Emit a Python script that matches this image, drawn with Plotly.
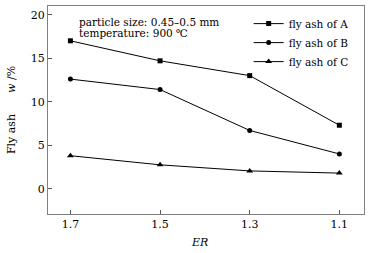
import plotly.graph_objects as go

er = [1.7, 1.5, 1.3, 1.1]
ash_a = [17.0, 14.7, 13.0, 7.3]
ash_b = [12.6, 11.4, 6.7, 4.0]
ash_c = [3.8, 2.75, 2.05, 1.8]
names = ["fly ash of A", "fly ash of B", "fly ash of C"]
symbols = ["square", "circle", "triangle-up"]
x_ticks = [1.7, 1.5, 1.3, 1.1]
y_ticks = [0, 5, 10, 15, 20]

FONT = "DejaVu Serif"
FS = 10.5
fig = go.Figure()
for vals, name, sym in zip([ash_a, ash_b, ash_c], names, symbols):
    fig.add_trace(go.Scatter(
        x=er, y=vals, name=name, mode="lines+markers",
        line=dict(color="black", width=1),
        marker=dict(symbol=sym, size=5 if sym != "triangle-up" else 6, color="black"),
    ))

axis_common = dict(
    showline=True, linecolor="#808080", linewidth=1, mirror=True, automargin=False,
    ticks="inside", ticklen=4, tickcolor="#555", showgrid=False, zeroline=False,
    tickfont=dict(family=FONT, size=FS + 0.5, color="black"),
)
fig.update_xaxes(range=[1.75, 1.045], tickvals=x_ticks, ticktext=[str(v) for v in x_ticks],
                 **axis_common)
fig.update_yaxes(range=[-2.9, 21], tickvals=y_ticks,
                 title=dict(text="Fly ash&nbsp;&nbsp;&nbsp;&nbsp;&nbsp;&nbsp;<i>w</i> /%", font=dict(family=FONT, size=FS + 0.5, color="black"), standoff=12),
                 **axis_common)
fig.add_annotation(xref="paper", yref="paper", x=0.092, y=0.925, xanchor="left", yanchor="middle",
                   text="particle size: 0.45\u20130.5 mm",
                   showarrow=False, font=dict(family=FONT, size=FS, color="black"))
fig.add_annotation(xref="paper", yref="paper", x=0.092, y=0.87, xanchor="left", yanchor="middle",
                   text="temperature: 900 \u2103",
                   showarrow=False, font=dict(family=FONT, size=FS, color="black"))
fig.add_annotation(xref="paper", yref="paper", x=0.48, y=-0.135, xanchor="center", yanchor="middle",
                   text="<i>ER</i>", showarrow=False, font=dict(family=FONT, size=FS + 0.5, color="black"))
fig.update_layout(
    width=371, height=253,
    margin=dict(l=48, r=7, t=6, b=39, autoexpand=False),
    paper_bgcolor="white", plot_bgcolor="white",
    font=dict(family=FONT, size=FS, color="black"),
    legend=dict(x=0.635, y=0.985, xanchor="left", yanchor="top", bgcolor="rgba(0,0,0,0)",
                font=dict(family=FONT, size=FS, color="black"), tracegroupgap=0),
    showlegend=True,
)
fig.write_html("out.html", config={"displayModeBar": False},
               post_script="document.body.style.margin='0';")
